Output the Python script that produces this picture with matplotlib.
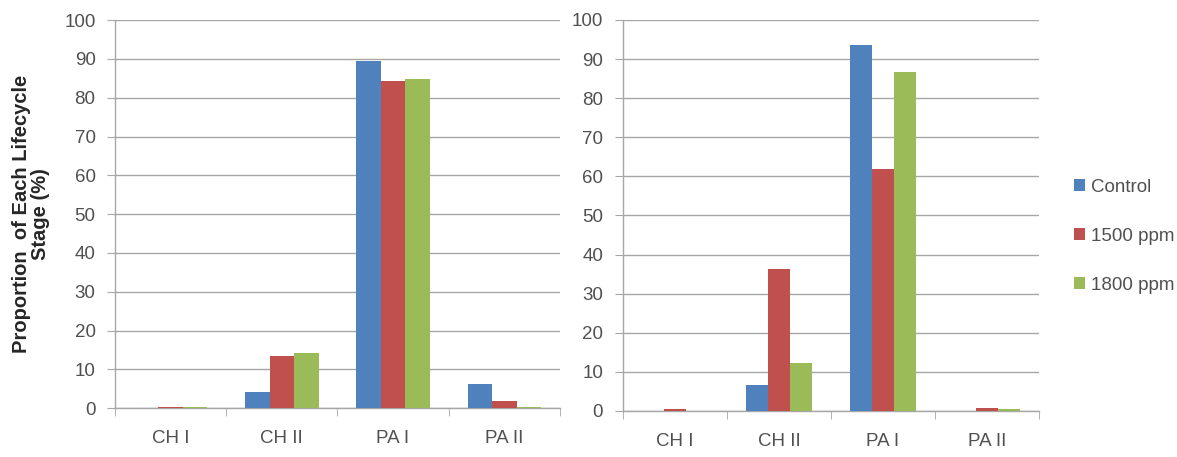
import matplotlib
matplotlib.use("Agg")
import matplotlib.pyplot as plt
import numpy as np

plt.rcParams['font.family'] = ['Liberation Sans Narrow', 'Liberation Sans', 'DejaVu Sans']

stages = ["CH I", "CH II", "PA I", "PA II"]
series_names = ["Control", "1500 ppm", "1800 ppm"]
colors = ["#4F81BD", "#C0504D", "#9BBB59"]

# Lifecycle stage proportions (%), left panel
left_control = [0.0, 4.2, 89.4, 6.2]
left_1500 = [0.3, 13.3, 84.2, 1.8]
left_1800 = [0.3, 14.2, 84.8, 0.2]

# Lifecycle stage proportions (%), right panel
right_control = [0.0, 6.6, 93.6, 0.0]
right_1500 = [0.5, 36.2, 62.0, 0.8]
right_1800 = [0.0, 12.3, 86.7, 0.5]

yticks = list(range(0, 101, 10))

text_color = "#505050"
grid_color = "#A6A6A6"

fig = plt.figure(figsize=(11.77, 4.57), dpi=100)
ax_left = fig.add_axes([0.0977, 0.107, 0.378, 0.849])
ax_right = fig.add_axes([0.529, 0.1007, 0.354, 0.8556])


def draw_panel(ax, data, width):
    x = np.arange(len(stages))
    handles = []
    for i, (vals, col, name) in enumerate(zip(data, colors, series_names)):
        h = ax.bar(x + (i - 1) * width, vals, width, color=col, label=name,
                   zorder=3)
        handles.append(h)
    ax.set_xlim(-0.5, len(stages) - 0.5)
    ax.set_ylim(0, 100)
    ax.set_yticks(yticks)
    ax.set_yticklabels([str(t) for t in yticks], fontsize=13.5, color=text_color)
    ax.set_xticks(x)
    ax.set_xticklabels(stages, fontsize=13.5, color=text_color)
    ax.tick_params(axis='x', which='major', length=0, pad=16)
    ax.set_xticks(np.arange(-0.5, len(stages)), minor=True)
    ax.tick_params(axis='x', which='minor', length=6, color=grid_color,
                   direction='out')
    ax.tick_params(axis='y', length=6, color=grid_color, direction='out',
                   pad=8)
    ax.yaxis.grid(True, color=grid_color, linewidth=1.0, zorder=0)
    for side in ("top", "right"):
        ax.spines[side].set_visible(False)
    for side in ("left", "bottom"):
        ax.spines[side].set_color(grid_color)
        ax.spines[side].set_linewidth(1.0)
    return handles


handles = draw_panel(ax_left, [left_control, left_1500, left_1800], 0.22)
draw_panel(ax_right, [right_control, right_1500, right_1800], 0.21)

ax_left.set_ylabel("Proportion  of Each Lifecycle\nStage (%)", fontsize=14.5,
                   fontweight='bold', color="#262626", labelpad=10,
                   linespacing=1.05,
                   family=['Liberation Sans', 'DejaVu Sans'])

fig.legend(handles, series_names, loc='center left',
           bbox_to_anchor=(0.898, 0.483), frameon=False, fontsize=13.5,
           handlelength=0.6, handleheight=0.6, handletextpad=0.3,
           labelspacing=1.7, labelcolor=text_color)

fig.savefig("out.png", dpi=100)
